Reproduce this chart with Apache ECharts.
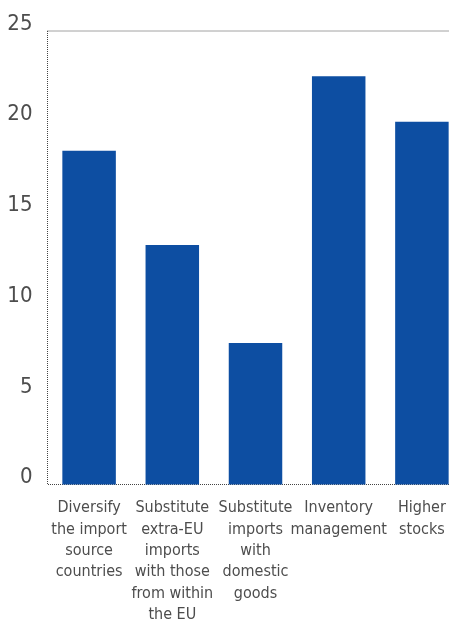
<!DOCTYPE html>
<html>
<head>
<meta charset="utf-8">
<script src="https://cdn.jsdelivr.net/npm/echarts@6/dist/echarts.min.js"></script>
<style>
  html, body { margin: 0; padding: 0; background: #fff; }
  #chart { width: 449px; height: 622px; }
</style>
</head>
<body>
<div id="chart"></div>
<script>
// Responses by strategy (share, %)
const categories = [
  'Diversify\nthe import\nsource\ncountries',
  'Substitute\nextra-EU\nimports\nwith those\nfrom within\nthe EU',
  'Substitute\nimports\nwith\ndomestic\ngoods',
  'Inventory\nmanagement',
  'Higher\nstocks'
];
const values = [18.4, 13.2, 7.8, 22.5, 20.0];
const yTicks = [0, 5, 10, 15, 20, 25];

const FONT = '"DejaVu Sans Condensed", "Liberation Sans Narrow", sans-serif';

const chart = echarts.init(document.getElementById('chart'), null, { renderer: 'canvas' });
chart.setOption({
  animation: false,
  grid: {
    left: 47.5,
    top: 31,
    width: 416,
    height: 453.5,
    containLabel: false,
    outerBoundsMode: 'none',
    show: true,
    borderColor: '#444',
    borderWidth: 1,
    borderType: 'dotted',
    backgroundColor: 'transparent'
  },
  xAxis: {
    type: 'category',
    data: categories,
    axisLine: { show: false },
    axisTick: { show: false },
    axisLabel: {
      interval: 0,
      margin: 13,
      color: '#4d4d4d',
      fontFamily: FONT,
      fontSize: 16,
      lineHeight: 21.3,
      align: 'center'
    }
  },
  yAxis: {
    type: 'value',
    min: yTicks[0],
    max: yTicks[yTicks.length - 1],
    interval: 5,
    axisLine: { show: false },
    axisTick: { show: false },
    splitLine: { show: false },
    axisLabel: {
      margin: 15,
      color: '#4d4d4d',
      fontFamily: FONT,
      fontSize: 22,
      verticalAlign: 'bottom',
      padding: [0, 0, -4, 0]
    }
  },
  series: [{
    type: 'bar',
    data: values,
    barWidth: 53.5,
    itemStyle: { color: '#0d4ea2' }
  }]
});
</script>
</body>
</html>
